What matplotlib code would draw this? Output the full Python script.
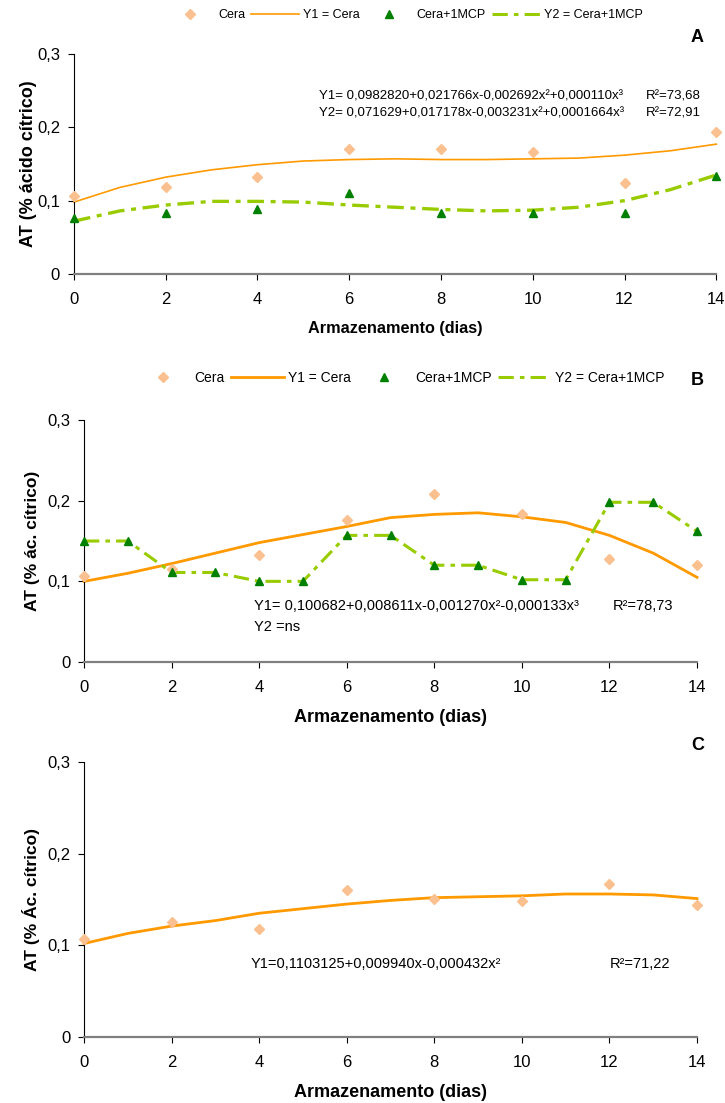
import matplotlib
matplotlib.use("Agg")
import matplotlib.pyplot as plt
from matplotlib import font_manager
from matplotlib.lines import Line2D
from matplotlib.ticker import FuncFormatter

# pick a narrow font if there is one
names = {f.name for f in font_manager.fontManager.ttflist}
NARROW = 'Liberation Sans Narrow' if 'Liberation Sans Narrow' in names else 'Liberation Sans'
plt.rcParams['font.family'] = [NARROW, 'DejaVu Sans']

PEACH  = '#FAC090'
ORANGE = '#FF9900'
GREEN  = '#008000'
LIME   = '#99CC00'

# ---- panel A ----
a_days     = [0, 2, 4, 6, 8, 10, 12, 14]
a_cera     = [0.107, 0.119, 0.132, 0.171, 0.170, 0.166, 0.124, 0.194]
a_mcp      = [0.077, 0.083, 0.088, 0.111, 0.083, 0.083, 0.083, 0.133]
fit_days   = list(range(15))
a_y1       = [0.098, 0.118, 0.132, 0.142, 0.149, 0.154, 0.156, 0.157,
              0.156, 0.156, 0.157, 0.158, 0.162, 0.168, 0.177]
a_y2       = [0.072, 0.086, 0.094, 0.099, 0.099, 0.098, 0.094, 0.091,
              0.088, 0.086, 0.087, 0.091, 0.100, 0.115, 0.135]

# ---- panel B ----
b_days     = [0, 2, 4, 6, 8, 10, 12, 14]
b_cera     = [0.107, 0.115, 0.133, 0.176, 0.208, 0.184, 0.128, 0.120]
b_mcp_days = list(range(15))
b_mcp      = [0.150, 0.150, 0.111, 0.111, 0.100, 0.100, 0.157, 0.157,
              0.120, 0.120, 0.102, 0.102, 0.198, 0.198, 0.162]
b_y1       = [0.100, 0.110, 0.122, 0.135, 0.148, 0.158, 0.168, 0.179,
              0.183, 0.185, 0.180, 0.173, 0.157, 0.135, 0.105]

# ---- panel C ----
c_days     = [0, 2, 4, 6, 8, 10, 12, 14]
c_cera     = [0.107, 0.125, 0.118, 0.160, 0.150, 0.148, 0.167, 0.144]
c_y1       = [0.102, 0.113, 0.121, 0.127, 0.135, 0.140, 0.145, 0.149,
              0.152, 0.153, 0.154, 0.156, 0.156, 0.155, 0.151]

xticks = [0, 2, 4, 6, 8, 10, 12, 14]
yticks = [0, 0.1, 0.2, 0.3]
comma = FuncFormatter(lambda v, p: ('%g' % round(v, 2)).replace('.', ','))
Y2_DASH = (5, 2, 1.5, 2)


def style_axes(ax, ylabel, ysize, xsize, ylab_x):
    ax.set_xlim(0, 14)
    ax.set_ylim(0, 0.3)
    ax.set_xticks(xticks)
    ax.set_yticks(yticks)
    ax.yaxis.set_major_formatter(comma)
    ax.spines['top'].set_visible(False)
    ax.spines['right'].set_visible(False)
    ax.spines['left'].set_linewidth(0.8)
    ax.spines['bottom'].set_color('#808080')
    ax.spines['bottom'].set_linewidth(1.6)
    ax.tick_params(axis='both', labelsize=12, length=4, width=0.8, pad=6)
    ax.tick_params(axis='x', pad=9)
    ax.set_xlabel('Armazenamento (dias)', fontsize=xsize, fontweight='bold', labelpad=10)
    ax.set_ylabel(ylabel, fontsize=ysize, fontweight='bold', family=['Liberation Sans', 'DejaVu Sans'])
    ax.yaxis.set_label_coords(ylab_x, 0.5)
    for c in ax.get_children():
        c.set_clip_on(False)


def legend(fig, y, x, lw1, size):
    handles = [
        Line2D([], [], ls='none', marker='D', ms=5, color=PEACH),
        Line2D([], [], color=ORANGE, lw=lw1),
        Line2D([], [], ls='none', marker='^', ms=6, color=GREEN),
        Line2D([], [], color=LIME, lw=2.2, dashes=Y2_DASH),
    ]
    labels = ['Cera', 'Y1 = Cera', 'Cera+1MCP', 'Y2 = Cera+1MCP']
    fig.legend(handles, labels, loc='center', bbox_to_anchor=(x, y), ncol=4, frameon=False,
               fontsize=size, handlelength=3.8, handletextpad=0.3, columnspacing=0.5)


fig = plt.figure(figsize=(7.25, 11.03), dpi=100)

# A
axA = fig.add_axes([0.102, 0.7516, 0.886, 0.1995])
axA.plot(fit_days, a_y1, color=ORANGE, lw=1.2, zorder=2)
axA.plot(fit_days, a_y2, color=LIME, lw=2.4, dashes=Y2_DASH, zorder=2)
axA.plot(a_days, a_cera, ls='none', marker='D', ms=5, color=PEACH, zorder=3)
axA.plot(a_days, a_mcp, ls='none', marker='^', ms=6, color=GREEN, zorder=3)
style_axes(axA, 'AT (% ácido cítrico)', 13, 11.7, -0.058)
axA.text(0.382, 0.805, 'Y1= 0,0982820+0,021766x-0,002692x²+0,000110x³', transform=axA.transAxes,
         fontsize=9.5, va='center')
axA.text(0.89, 0.805, 'R²=73,68', transform=axA.transAxes, fontsize=9.5, va='center')
axA.text(0.382, 0.73, 'Y2= 0,071629+0,017178x-0,003231x²+0,0001664x³', transform=axA.transAxes,
         fontsize=9.5, va='center')
axA.text(0.89, 0.73, 'R²=72,91', transform=axA.transAxes, fontsize=9.5, va='center')
legend(fig, 0.986, 0.558, 1.2, 9)
fig.text(0.962, 0.966, 'A', fontsize=13, fontweight='bold', ha='center', va='center')

# B
axB = fig.add_axes([0.1159, 0.3998, 0.8455, 0.2194])
axB.plot(fit_days, b_y1, color=ORANGE, lw=2.0, zorder=2)
axB.plot(b_mcp_days, b_mcp, color=LIME, lw=2.2, dashes=Y2_DASH, zorder=2)
axB.plot(b_days, b_cera, ls='none', marker='D', ms=5, color=PEACH, zorder=3)
axB.plot(b_mcp_days, b_mcp, ls='none', marker='^', ms=6, color=GREEN, zorder=3)
style_axes(axB, 'AT (% ác. cítrico)', 12.5, 13, -0.072)
axB.text(0.277, 0.232, 'Y1= 0,100682+0,008611x-0,001270x²-0,000133x³', transform=axB.transAxes,
         fontsize=10.5, va='center')
axB.text(0.863, 0.232, 'R²=78,73', transform=axB.transAxes, fontsize=10.5, va='center')
axB.text(0.277, 0.145, 'Y2 =ns', transform=axB.transAxes, fontsize=10.5, va='center')
legend(fig, 0.657, 0.553, 2.0, 10)
fig.text(0.962, 0.655, 'B', fontsize=13, fontweight='bold', ha='center', va='center')

# C
axC = fig.add_axes([0.1159, 0.0598, 0.8455, 0.2494])
axC.plot(fit_days, c_y1, color=ORANGE, lw=2.0, zorder=2)
axC.plot(c_days, c_cera, ls='none', marker='D', ms=5, color=PEACH, zorder=3)
style_axes(axC, 'AT (% Ác. cítrico)', 12.5, 13, -0.072)
axC.text(0.272, 0.264, 'Y1=0,1103125+0,009940x-0,000432x²', transform=axC.transAxes,
         fontsize=10.5, va='center')
axC.text(0.858, 0.264, 'R²=71,22', transform=axC.transAxes, fontsize=10.5, va='center')
fig.text(0.962, 0.324, 'C', fontsize=13, fontweight='bold', ha='center', va='center')

fig.savefig('out.png', dpi=100)
